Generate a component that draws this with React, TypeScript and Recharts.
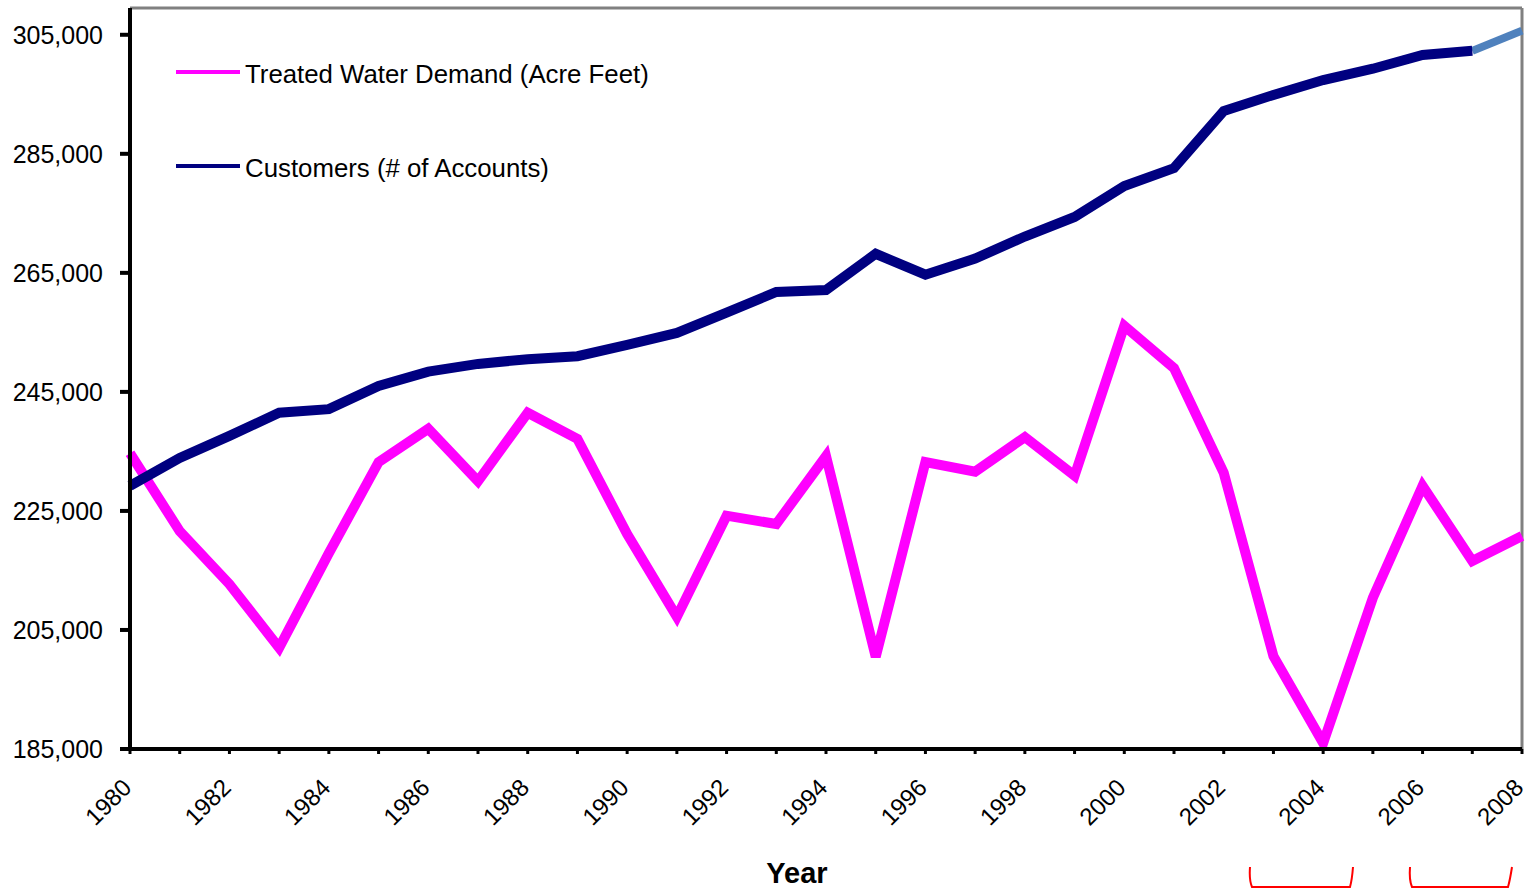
import React from 'react';
import { LineChart, Line, XAxis, YAxis, ReferenceLine } from 'recharts';

const years = [1980, 1981, 1982, 1983, 1984, 1985, 1986, 1987, 1988, 1989, 1990, 1991, 1992, 1993, 1994, 1995, 1996, 1997, 1998, 1999, 2000, 2001, 2002, 2003, 2004, 2005, 2006, 2007, 2008];
const treatedWater = [234700, 221600, 212700, 202000, 217900, 233200, 238800, 230000, 241500, 237100, 221100, 207200, 224200, 222800, 234200, 200500, 233200, 231600, 237400, 230900, 256100, 249000, 231400, 200600, 186000, 210400, 229200, 216600, 220800];
const customers = [229200, 233900, 237600, 241500, 242100, 246000, 248400, 249700, 250500, 251000, 252900, 254900, 258300, 261800, 262100, 268200, 264700, 267400, 271100, 274400, 279600, 282600, 292200, 294900, 297400, 299300, 301600, 302300, null];
const customersProjection: (number | null)[] = [null, null, null, null, null, null, null, null, null, null, null, null, null, null, null, null, null, null, null, null, null, null, null, null, null, null, null, 302300, 305700];
const yTicks = [185000, 205000, 225000, 245000, 265000, 285000, 305000];
const legendLabels = ['Treated Water Demand (Acre Feet)', 'Customers (# of Accounts)'];
const legendColors = ['#FF00FF', '#000080'];

const data = years.map((y, i) => ({
  year: y,
  treated: treatedWater[i],
  customers: customers[i],
  projection: customersProjection[i],
}));

const FONT = '"Liberation Sans", Arial, sans-serif';

const XTick = (props: any) => {
  const { x, y, payload } = props;
  if (payload.value % 2 !== 0) return null;
  const ax = x + 3;
  const ay = y + 33;
  return (
    <text x={ax} y={ay} transform={`rotate(-45, ${ax}, ${ay})`} textAnchor="end" fontFamily={FONT} fontSize={24} fill="#000">
      {payload.value}
    </text>
  );
};

export default function App() {
  return (
    <div style={{ position: 'absolute', left: 0, top: 0, width: 1526, height: 889, background: '#fff' }}>
      <LineChart width={1526} height={889} data={data} margin={{ top: 8, right: 4, bottom: 0, left: 0 }}>
        <XAxis
          dataKey="year"
          type="number"
          domain={[1980, 2008]}
          ticks={years}
          interval={0}
          height={140}
          tick={<XTick />}
          tickSize={5}
          tickLine={{ stroke: '#000', strokeWidth: 3 }}
          axisLine={{ stroke: '#000', strokeWidth: 4 }}
          label={{ value: 'Year', position: 'insideBottom', offset: 6, dx: -29, fontFamily: FONT, fontSize: 29, fontWeight: 'bold', fill: '#000' }}
        />
        <YAxis
          type="number"
          domain={[185000, 309500]}
          ticks={yTicks}
          width={130}
          tickSize={10}
          tickMargin={17}
          allowDataOverflow
          tickFormatter={(v: number) => v.toLocaleString('en-US')}
          tick={{ fontFamily: FONT, fontSize: 25, fill: '#000' }}
          tickLine={{ stroke: '#000', strokeWidth: 4 }}
          axisLine={{ stroke: '#000', strokeWidth: 4 }}
        />
        <ReferenceLine y={309500} stroke="#808080" strokeWidth={3} />
        <ReferenceLine x={2008} stroke="#808080" strokeWidth={3} />
        <Line type="linear" dataKey="projection" stroke="#4F81BD" strokeWidth={8} dot={false} isAnimationActive={false} connectNulls={false} />
        <Line type="linear" dataKey="treated" stroke="#FF00FF" strokeWidth={10} dot={false} isAnimationActive={false} />
        <Line type="linear" dataKey="customers" stroke="#000080" strokeWidth={10} dot={false} isAnimationActive={false} connectNulls={false} />
      </LineChart>
      <svg width={1526} height={889} style={{ position: 'absolute', left: 0, top: 0, pointerEvents: 'none' }}>
        {legendLabels.map((l, i) => (
          <g key={l}>
            <line x1={176} y1={72 + i * 94} x2={240} y2={72 + i * 94} stroke={legendColors[i]} strokeWidth={4} />
            <text x={245} y={74 + i * 94} dy="0.355em" fontFamily={FONT} fontSize={25.8} fill="#000">{l}</text>
          </g>
        ))}
        <path d="M1250,867 Q1249,880 1252,887 L1350,887 Q1352,880 1353,867" fill="none" stroke="#FF0000" strokeWidth={2} />
        <path d="M1410,867 Q1409,880 1412,887 L1508,887 Q1510,880 1512,867" fill="none" stroke="#FF0000" strokeWidth={2} />
      </svg>
    </div>
  );
}
